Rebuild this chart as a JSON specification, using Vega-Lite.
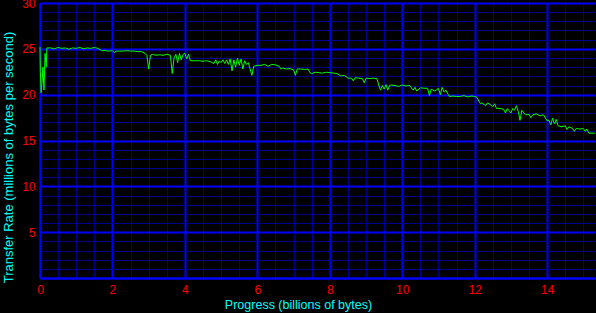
{
  "$schema": "https://vega.github.io/schema/vega-lite/v6.json",
  "width": 555,
  "height": 275,
  "autosize": "none",
  "padding": {"left": 40, "top": 3, "right": 1, "bottom": 35},
  "background": "black",
  "config": {
    "view": {"stroke": null},
    "axis": {"labelFont": "Liberation Sans", "titleFont": "Liberation Sans", "labelFontSize": 12, "titleFontSize": 12.5, "titleFontWeight": "normal", "labelFlush": false}
  },
  "data": {
    "values": [
      {"p": 0.0, "r": 25.2}, {"p": 0.01, "r": 22.5}, {"p": 0.03, "r": 20.2}, {"p": 0.06, "r": 21.5},
      {"p": 0.08, "r": 23.0}, {"p": 0.11, "r": 20.5}, {"p": 0.14, "r": 24.5}, {"p": 0.17, "r": 23.0},
      {"p": 0.19, "r": 25.1}, {"p": 0.3, "r": 25.1}, {"p": 0.4, "r": 25.0}, {"p": 0.5, "r": 25.15},
      {"p": 0.6, "r": 25.05}, {"p": 0.7, "r": 25.1}, {"p": 0.8, "r": 24.95}, {"p": 0.9, "r": 25.1},
      {"p": 1.0, "r": 25.05}, {"p": 1.1, "r": 25.15}, {"p": 1.2, "r": 25.0}, {"p": 1.3, "r": 25.1},
      {"p": 1.4, "r": 25.05}, {"p": 1.5, "r": 25.15}, {"p": 1.6, "r": 25.05}, {"p": 1.7, "r": 24.8},
      {"p": 1.8, "r": 24.8}, {"p": 1.9, "r": 24.75}, {"p": 2.0, "r": 24.8}, {"p": 2.05, "r": 24.6},
      {"p": 2.1, "r": 24.75}, {"p": 2.2, "r": 24.75}, {"p": 2.3, "r": 24.75}, {"p": 2.4, "r": 24.8},
      {"p": 2.5, "r": 24.75}, {"p": 2.6, "r": 24.75}, {"p": 2.7, "r": 24.7}, {"p": 2.8, "r": 24.7},
      {"p": 2.9, "r": 24.5}, {"p": 2.95, "r": 24.3}, {"p": 3.0, "r": 22.8}, {"p": 3.05, "r": 24.3},
      {"p": 3.1, "r": 24.4}, {"p": 3.2, "r": 24.3}, {"p": 3.3, "r": 24.35}, {"p": 3.4, "r": 24.3},
      {"p": 3.5, "r": 24.4}, {"p": 3.6, "r": 24.3}, {"p": 3.65, "r": 22.3}, {"p": 3.7, "r": 24.0},
      {"p": 3.75, "r": 24.4}, {"p": 3.8, "r": 23.5}, {"p": 3.85, "r": 24.5}, {"p": 3.9, "r": 23.8},
      {"p": 3.95, "r": 24.4}, {"p": 4.0, "r": 24.5}, {"p": 4.05, "r": 23.9}, {"p": 4.1, "r": 24.4},
      {"p": 4.15, "r": 23.7}, {"p": 4.3, "r": 23.7}, {"p": 4.4, "r": 23.7}, {"p": 4.5, "r": 23.65},
      {"p": 4.6, "r": 23.7}, {"p": 4.7, "r": 23.6}, {"p": 4.8, "r": 23.4}, {"p": 4.85, "r": 23.8},
      {"p": 4.9, "r": 23.3}, {"p": 4.95, "r": 23.7}, {"p": 5.0, "r": 23.5}, {"p": 5.05, "r": 23.8},
      {"p": 5.1, "r": 23.4}, {"p": 5.15, "r": 23.8}, {"p": 5.2, "r": 23.3}, {"p": 5.25, "r": 23.9},
      {"p": 5.3, "r": 22.6}, {"p": 5.35, "r": 23.8}, {"p": 5.4, "r": 23.0}, {"p": 5.45, "r": 24.0},
      {"p": 5.5, "r": 23.2}, {"p": 5.55, "r": 23.9}, {"p": 5.6, "r": 22.8}, {"p": 5.65, "r": 23.7},
      {"p": 5.7, "r": 23.3}, {"p": 5.75, "r": 23.5}, {"p": 5.85, "r": 22.1}, {"p": 5.9, "r": 23.1},
      {"p": 6.0, "r": 23.2}, {"p": 6.1, "r": 23.2}, {"p": 6.2, "r": 23.3}, {"p": 6.3, "r": 23.1},
      {"p": 6.4, "r": 23.3}, {"p": 6.5, "r": 23.25}, {"p": 6.6, "r": 23.1}, {"p": 6.65, "r": 22.8},
      {"p": 6.7, "r": 22.9}, {"p": 6.8, "r": 22.8}, {"p": 6.9, "r": 22.85}, {"p": 7.0, "r": 22.7},
      {"p": 7.05, "r": 22.1}, {"p": 7.1, "r": 22.8}, {"p": 7.2, "r": 22.8}, {"p": 7.3, "r": 22.75},
      {"p": 7.4, "r": 22.8}, {"p": 7.45, "r": 22.4}, {"p": 7.5, "r": 22.3}, {"p": 7.6, "r": 22.45},
      {"p": 7.7, "r": 22.4}, {"p": 7.8, "r": 22.35}, {"p": 7.9, "r": 22.45}, {"p": 8.0, "r": 22.4},
      {"p": 8.1, "r": 22.35}, {"p": 8.2, "r": 22.3}, {"p": 8.3, "r": 22.05}, {"p": 8.4, "r": 22.1},
      {"p": 8.5, "r": 21.8}, {"p": 8.6, "r": 21.8}, {"p": 8.65, "r": 21.5}, {"p": 8.7, "r": 21.85},
      {"p": 8.8, "r": 21.8}, {"p": 8.9, "r": 21.75}, {"p": 8.95, "r": 21.3}, {"p": 9.0, "r": 21.8},
      {"p": 9.1, "r": 21.75}, {"p": 9.2, "r": 21.8}, {"p": 9.3, "r": 21.75}, {"p": 9.35, "r": 21.05},
      {"p": 9.4, "r": 20.5}, {"p": 9.45, "r": 21.0}, {"p": 9.5, "r": 20.6}, {"p": 9.55, "r": 21.1},
      {"p": 9.6, "r": 20.5}, {"p": 9.65, "r": 21.0}, {"p": 9.7, "r": 21.05}, {"p": 9.8, "r": 21.0},
      {"p": 9.9, "r": 20.9}, {"p": 10.0, "r": 21.05}, {"p": 10.1, "r": 20.95}, {"p": 10.2, "r": 21.0},
      {"p": 10.3, "r": 20.5}, {"p": 10.35, "r": 20.8}, {"p": 10.4, "r": 20.4}, {"p": 10.5, "r": 20.75},
      {"p": 10.6, "r": 20.7}, {"p": 10.7, "r": 20.7}, {"p": 10.75, "r": 19.9}, {"p": 10.8, "r": 20.6},
      {"p": 10.9, "r": 20.4}, {"p": 11.0, "r": 20.7}, {"p": 11.05, "r": 20.0}, {"p": 11.1, "r": 20.8},
      {"p": 11.15, "r": 20.3}, {"p": 11.2, "r": 20.5}, {"p": 11.3, "r": 19.8}, {"p": 11.4, "r": 19.85},
      {"p": 11.5, "r": 19.8}, {"p": 11.6, "r": 19.8}, {"p": 11.7, "r": 19.9}, {"p": 11.8, "r": 19.75},
      {"p": 11.9, "r": 19.85}, {"p": 12.0, "r": 19.8}, {"p": 12.05, "r": 19.75}, {"p": 12.15, "r": 19.05},
      {"p": 12.2, "r": 19.1}, {"p": 12.3, "r": 18.8}, {"p": 12.35, "r": 19.1}, {"p": 12.4, "r": 19.0},
      {"p": 12.5, "r": 18.7}, {"p": 12.55, "r": 19.0}, {"p": 12.6, "r": 18.5}, {"p": 12.7, "r": 18.5},
      {"p": 12.8, "r": 18.4}, {"p": 12.85, "r": 18.0}, {"p": 12.9, "r": 18.5}, {"p": 13.0, "r": 18.0},
      {"p": 13.05, "r": 18.5}, {"p": 13.1, "r": 18.3}, {"p": 13.15, "r": 18.8}, {"p": 13.2, "r": 18.2},
      {"p": 13.25, "r": 17.2}, {"p": 13.3, "r": 18.3}, {"p": 13.4, "r": 17.8}, {"p": 13.5, "r": 17.85},
      {"p": 13.55, "r": 17.5}, {"p": 13.6, "r": 17.8}, {"p": 13.7, "r": 17.9}, {"p": 13.8, "r": 17.7},
      {"p": 13.9, "r": 17.8}, {"p": 14.0, "r": 17.15}, {"p": 14.05, "r": 17.2}, {"p": 14.1, "r": 16.7},
      {"p": 14.15, "r": 17.45}, {"p": 14.2, "r": 16.8}, {"p": 14.25, "r": 17.3}, {"p": 14.3, "r": 16.6},
      {"p": 14.4, "r": 16.5}, {"p": 14.5, "r": 16.6}, {"p": 14.55, "r": 16.2}, {"p": 14.6, "r": 16.5},
      {"p": 14.7, "r": 16.3}, {"p": 14.75, "r": 16.0}, {"p": 14.8, "r": 16.3}, {"p": 14.9, "r": 16.25},
      {"p": 15.0, "r": 16.3}, {"p": 15.05, "r": 16.0}, {"p": 15.1, "r": 16.25}, {"p": 15.15, "r": 15.8},
      {"p": 15.32, "r": 15.8}
    ]
  },
  "layer": [
    {
      "mark": {"type": "line", "strokeOpacity": 0},
      "encoding": {
        "x": {"field": "p", "type": "quantitative", "scale": {"domain": [0, 15.32], "nice": false, "zero": false},
          "axis": {"orient": "top", "values": [0.5,1,1.5,2.5,3,3.5,4.5,5,5.5,6.5,7,7.5,8.5,9,9.5,10.5,11,11.5,12.5,13,13.5,14.5,15],
            "grid": true, "gridColor": "#000090", "gridWidth": 1, "gridOpacity": 1, "labels": false, "ticks": false, "domain": false, "title": null}},
        "y": {"field": "r", "type": "quantitative", "scale": {"domain": [0, 30], "nice": false},
          "axis": {"orient": "right", "values": [1,2,3,4,6,7,8,9,11,12,13,14,16,17,18,19,21,22,23,24,26,27,28,29],
            "grid": true, "gridColor": "#000090", "gridWidth": 1, "gridOpacity": 1, "labels": false, "ticks": false, "domain": false, "title": null}}
      }
    },
    {
      "mark": {"type": "line", "color": "#00ff00", "strokeWidth": 1},
      "encoding": {
        "x": {"field": "p", "type": "quantitative",
          "axis": {"orient": "bottom", "values": [0,2,4,6,8,10,12,14], "grid": true, "gridColor": "#0000ff", "gridWidth": 2, "gridOpacity": 1,
            "ticks": false, "domain": true, "domainColor": "#0000ff", "domainWidth": 2, "labelColor": "#ff0000", "labelPadding": 6,
            "title": "Progress (billions of bytes)", "titleColor": "#00ffff", "titleX": 258, "titleY": 30, "titleBaseline": "alphabetic", "titleAnchor": null}},
        "y": {"field": "r", "type": "quantitative",
          "axis": {"orient": "left", "values": [0,5,10,15,20,25,30], "labelExpr": "datum.value == 0 ? '' : datum.label", "grid": true, "gridColor": "#0000ff", "gridWidth": 2, "gridOpacity": 1,
            "ticks": false, "domain": true, "domainColor": "#0000ff", "domainWidth": 2, "labelColor": "#ff0000", "labelPadding": 5,
            "title": "Transfer Rate (millions of bytes per second)", "titleColor": "#00ffff", "titleFontSize": 13, "titleX": -32, "titleY": 154, "titleAngle": -90, "titleBaseline": "middle", "titleAlign": "center"}}
      }
    }
  ],
  "resolve": {"axis": {"x": "independent", "y": "independent"}}
}
